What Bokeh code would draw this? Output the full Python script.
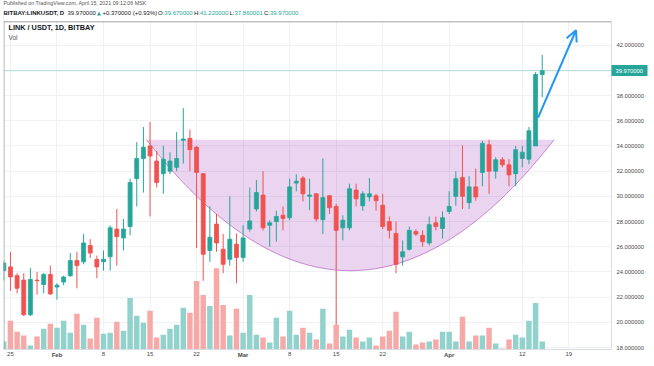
import numpy as np
import pandas as pd
from bokeh.plotting import figure
from bokeh.models import (Range1d, FixedTicker, PrintfTickFormatter, Span, Label, BoxAnnotation,
                          Arrow, OpenHead, ColumnDataSource, LinearAxis)
from bokeh.embed import file_html
from bokeh.resources import INLINE

# ---------------- data ----------------
dates = pd.date_range("2021-01-24", "2021-04-15", freq="D")

opens = [24.1, 24.4, 23.7, 23.35, 20.6, 23.35, 23.0, 23.8, 22.8, 23.2,
         23.7, 24.9, 24.8, 26.1, 25.0, 24.8, 25.2, 27.4, 26.7, 27.6,
         31.4, 33.0, 34.0, 32.8, 31.8, 32.0, 32.3, 34.45, 34.6, 33.9,
         31.8, 25.7, 27.8, 25.8, 25.0, 26.2, 25.15, 27.4, 29.0, 30.1,
         27.7, 28.0, 28.5, 28.3, 31.05, 31.45, 30.0, 30.2, 28.15, 30.05,
         29.2, 27.5, 27.5, 30.5, 29.25, 29.95, 30.05, 29.3, 28.0, 27.05,
         25.2, 25.8, 27.2, 26.9, 26.3, 27.9, 27.45, 28.8, 30.0, 31.5,
         29.5, 30.75, 31.9, 34.1, 32.0, 32.9, 32.5, 31.8, 33.0, 32.95,
         34.0, 39.67]
highs = [24.9, 25.6, 23.9, 23.9, 24.3, 24.0, 23.9, 24.5, 23.1, 23.7,
         25.5, 25.6, 27.0, 26.6, 25.3, 25.7, 27.7, 29.0, 28.2, 31.4,
         34.3, 35.5, 35.9, 33.6, 34.0, 33.5, 35.1, 37.0, 35.3, 34.0,
         31.85, 29.2, 28.6, 27.0, 30.0, 27.05, 27.7, 30.7, 31.3, 32.0,
         28.1, 28.85, 29.2, 31.4, 31.75, 31.6, 31.4, 30.25, 33.0, 30.1,
         29.4, 28.5, 31.0, 31.0, 30.4, 31.45, 30.2, 30.2, 28.4, 28.0,
         26.5, 27.6, 27.4, 27.3, 28.4, 28.4, 28.8, 30.4, 32.0, 34.05,
         31.6, 32.2, 34.4, 34.5, 33.1, 33.1, 32.95, 34.0, 34.0, 35.5,
         39.85, 41.22]
lows = [23.3, 22.5, 22.3, 20.5, 20.5, 22.2, 22.3, 22.2, 21.8, 22.95,
        23.6, 22.7, 24.6, 25.1, 23.5, 24.1, 24.1, 24.5, 25.7, 26.9,
        29.2, 30.3, 28.4, 30.7, 30.2, 31.75, 32.0, 32.6, 32.0, 25.9,
        23.3, 24.8, 25.6, 23.9, 24.5, 23.1, 24.8, 27.2, 28.8, 27.3,
        26.0, 26.4, 27.3, 28.1, 30.4, 29.6, 28.9, 28.0, 27.0, 28.6,
        19.8, 26.5, 27.3, 29.2, 28.85, 29.6, 28.85, 27.4, 26.65, 23.9,
        24.5, 25.7, 26.85, 26.0, 26.1, 27.3, 26.65, 28.6, 29.25, 29.0,
        29.0, 29.65, 30.8, 30.2, 31.4, 32.3, 30.8, 30.8, 32.3, 32.55,
        34.0, 37.86]
closes = [24.7, 23.6, 22.7, 20.6, 23.4, 23.3, 23.8, 22.25, 22.95, 23.6,
          24.9, 24.5, 26.3, 25.5, 24.4, 25.0, 27.5, 26.8, 27.4, 31.1,
          33.0, 33.9, 33.2, 31.1, 32.95, 32.8, 33.0, 34.55, 33.7, 31.9,
          25.4, 26.75, 26.3, 24.6, 26.6, 25.15, 26.7, 28.05, 30.3, 27.5,
          27.9, 28.4, 28.25, 30.75, 31.2, 30.2, 30.1, 28.2, 29.9, 29.1,
          27.3, 28.1, 30.6, 29.8, 30.2, 30.2, 29.65, 27.6, 27.3, 24.6,
          25.6, 27.3, 27.0, 26.4, 27.75, 27.6, 28.3, 29.2, 31.4, 30.0,
          30.75, 29.95, 34.2, 32.0, 32.9, 32.5, 31.7, 33.7, 33.5, 35.2,
          39.67, 39.97]
volumes = [0.8, 2.9, 1.8, 1.4, 0.4, 1.3, 2.1, 2.6, 2.2, 2.9,
           1.7, 3.6, 2.5, 1.1, 3.2, 1.6, 1.7, 2.8, 1.9, 5.2,
           3.4, 2.7, 3.9, 1.2, 1.5, 2.1, 2.5, 4.2, 3.7, 6.9,
           5.5, 4.4, 8.2, 4.5, 1.4, 4.1, 1.7, 5.5, 1.5, 1.2,
           0.7, 3.2, 1.3, 3.9, 1.5, 2.2, 1.7, 1.0, 4.1, 0.6,
           2.5, 1.3, 2.0, 1.2, 0.8, 1.2, 0.4, 1.3, 1.9, 3.8,
           1.3, 1.8, 0.5, 0.7, 0.8, 1.0, 1.8, 1.8, 0.8, 3.3,
           0.8, 1.4, 1.4, 2.2, 0.6, 0.1, 1.0, 1.5, 1.2, 2.9,
           4.7, 0.8]

tick_dates = ["2021-01-25", "2021-02-01", "2021-02-08", "2021-02-15", "2021-02-22",
              "2021-03-01", "2021-03-08", "2021-03-15", "2021-03-22", "2021-04-01",
              "2021-04-12", "2021-04-19"]
tick_labels = ["25", "Feb", "8", "15", "22", "Mar", "8", "15", "22", "Apr", "12", "19"]
month_labels = {"Feb", "Mar", "Apr"}
price_ticks = [18, 20, 22, 24, 26, 28, 30, 32, 34, 36, 38, 40, 42]
last_price = 39.97

# author's drawings: cup arc and arrow
cup_start, cup_end = "2021-02-14 11:00", "2021-04-16 19:00"
cup_rim, cup_floor = 34.5, 24.1
arrow_start = ("2021-04-14 09:00", 36.25)
arrow_end = ("2021-04-20 02:00", 43.18)

# ---------------- build ----------------
TEAL, RED, BOX, SEP = "#26a69a", "#ef5350", "#a3a3a3", "#d9dce2"
FONT = "Liberation Sans"
base = pd.Timestamp("2021-01-25")
def day(d):
    return (pd.Timestamp(d) - base) / pd.Timedelta(days=1)

x = np.array([day(d) for d in dates])
o = np.array(opens); h = np.array(highs); l = np.array(lows); c = np.array(closes)
up = c >= o
src = ColumnDataSource(dict(
    x=x, h=h, l=l, top=np.maximum(o, c), bottom=np.minimum(o, c),
    color=np.where(up, TEAL, RED), vcolor=np.where(up, "#92d2cc", "#f7a9a7"),
    vol=volumes))

W, H = 654, 366
ML, MR, MT, MB = 3, 38, 0, 14
PX_DAY, PX_PRICE = 6.702, 12.708          # picture scale of the pane
X0 = -1.045                                # day at the pane's left edge
PANE_TOP = 43.889                          # price at the pane's top edge (below header)
Y0 = 17.843                                # price at the pane's bottom edge
TOP = Y0 + (H - MB) / PX_PRICE             # frame also spans the header strip
X1 = X0 + (W - ML - MR) / PX_DAY

p = figure(width=W, height=H, output_backend="svg", toolbar_location=None, title=None,
           x_range=Range1d(X0, X1), y_range=Range1d(Y0, TOP),
           x_axis_location="below", y_axis_location="right",
           min_border_left=ML, min_border_right=MR, min_border_top=MT, min_border_bottom=MB)
p.extra_y_ranges = {"vol": Range1d(0, (H - MB) / 10)}
p.outline_line_color = None
p.background_fill_color = "white"
p.border_fill_color = "white"

xt = [int(round(day(d))) for d in tick_dates]
p.xgrid.ticker = FixedTicker(ticks=xt)
p.ygrid.ticker = FixedTicker(ticks=price_ticks)
p.xgrid.grid_line_color = "#eef1f6"
p.ygrid.grid_line_color = "#eef1f6"

# cup
c0, c1 = day(cup_start), day(cup_end)
cx = np.linspace(c0, c1, 160)
mid, half = (c0 + c1) / 2, (c1 - c0) / 2
cy = cup_rim - (cup_rim - cup_floor) * (1 - ((cx - mid) / half) ** 2)
p.patch(cx, cy, fill_color="#9c27b0", fill_alpha=0.2, line_color=None)
p.line(cx, cy, line_color="#9c27b0", line_alpha=0.5, line_width=1)

# volume
p.vbar(x="x", top="vol", bottom=0, width=0.82, fill_color="vcolor", line_color=None,
       y_range_name="vol", source=src)
# candles
p.segment(x0="x", y0="l", x1="x", y1="h", line_color="color", line_width=1, source=src)
p.vbar(x="x", top="top", bottom="bottom", width=0.6, fill_color="color",
       line_color="color", line_width=0.8, source=src)

p.add_layout(Span(location=last_price, dimension="width", line_color=TEAL,
                  line_alpha=0.3, line_width=1))

p.add_layout(Arrow(end=OpenHead(size=11, line_color="#2196f3", line_width=2),
                   x_start=day(arrow_start[0]), y_start=arrow_start[1],
                   x_end=day(arrow_end[0]), y_end=arrow_end[1],
                   line_color="#2196f3", line_width=2))

# left box edge, then blank header strip, then top box edge
p.add_layout(Span(location=X0 + 0.5 / PX_DAY, dimension="height", line_color=BOX, line_width=1))
p.add_layout(BoxAnnotation(left=X0 - 5, right=X1 + 5, bottom=PANE_TOP, top=TOP + 5,
                           fill_color="white", fill_alpha=1, line_color=None))
p.add_layout(Span(location=PANE_TOP - 0.5 / PX_PRICE, dimension="width",
                  line_color=BOX, line_width=1))

def style(ax, size):
    ax.major_tick_in = 0
    ax.major_tick_out = 0
    ax.minor_tick_line_color = None
    ax.major_label_text_color = "#4a4a4a"
    ax.major_label_text_font = FONT
    ax.major_label_text_font_size = size

# ---- date axes: day numbers (inner, no extent) + bold month names (outer) ----
day_ticks = [t for t, s in zip(xt, tick_labels) if s not in month_labels]
mon_ticks = [t for t, s in zip(xt, tick_labels) if s in month_labels]
xax = p.xaxis[0]
style(xax, "6px")
xax.ticker = FixedTicker(ticks=day_ticks)
xax.major_label_overrides = {t: s for t, s in zip(xt, tick_labels) if t in day_ticks}
xax.major_label_standoff = 2
xax.axis_line_color = SEP
xax.axis_label = " "
xax.axis_label_text_font_size = "2px"
xax.axis_label_standoff = -16

xm = LinearAxis(ticker=FixedTicker(ticks=mon_ticks),
                major_label_overrides={t: s for t, s in zip(xt, tick_labels) if t in mon_ticks})
style(xm, "6px")
xm.major_label_text_font_style = "bold"
xm.major_label_standoff = 2
xm.axis_line_color = None
xm.axis_label = " "
xm.axis_label_text_font_size = "2px"
xm.axis_label_standoff = 1
p.add_layout(xm, "below")

# ---- price axes: last-price tag (inner, no extent) + price scale (outer) ----
TAG_W = 36
yax = p.yaxis[0]
style(yax, "5.8px")
yax.bounds = (Y0, PANE_TOP)
yax.ticker = FixedTicker(ticks=[last_price], minor_ticks=[last_price])
yax.formatter = PrintfTickFormatter(format="%.6f")
yax.major_label_text_color = "white"
yax.minor_tick_line_color = TEAL
yax.minor_tick_in = 0
yax.minor_tick_out = TAG_W
yax.minor_tick_line_width = 11
yax.major_label_standoff = 4 - TAG_W
yax.axis_line_color = SEP
yax.axis_label = " "
yax.axis_label_text_font_size = "3px"
yax.axis_label_standoff = -40

scale_ticks = [t for t in price_ticks if abs(t - last_price) > 0.5]
ys = LinearAxis(ticker=FixedTicker(ticks=scale_ticks), formatter=PrintfTickFormatter(format="%.6f"),
                bounds=(Y0, PANE_TOP))
style(ys, "5.8px")
ys.major_label_standoff = 4
ys.axis_line_color = None
ys.axis_label = " "
ys.axis_label_text_font_size = "3px"
ys.axis_label_standoff = 1
p.add_layout(ys, "right")

# outer box edges (right / bottom) as bare axes
for side in ("right", "below"):
    ax = LinearAxis(ticker=FixedTicker(ticks=[]), major_tick_in=0, major_tick_out=0,
                    minor_tick_in=0, minor_tick_out=0, major_label_text_font_size="0px",
                    axis_line_color=BOX)
    if side == "right":
        ax.bounds = (Y0, PANE_TOP)
    p.add_layout(ax, side)

# texts (screen units from the frame's bottom-left corner; picture pixel positions)
def lab(text, X, Y, size, color, bold=False, font=FONT):
    p.add_layout(Label(x=X - ML, y=(H - MB) - Y, x_units="screen", y_units="screen",
                       text=text, text_font_size=size, text_color=color,
                       text_baseline="middle", text_font=font,
                       text_font_style="bold" if bold else "normal"))

lab("Published on TradingView.com, April 15, 2021 09:12:06 MSK", 3, 5.5, "5.3px", "#555555")
Y2 = 15.5
lab("BITBAY:LINKUSDT, D", 3, Y2, "6px", "#131722", bold=True)
lab("39.970000", 67, Y2, "6px", "#131722")
lab("\u25b2", 96.5, Y2, "5px", TEAL, font="DejaVu Sans")
lab("+0.370000 (+0.93%)", 102, Y2, "6px", "#131722")
for X, k, v, kw in [(157.5, "O:", "39.670000", 6.3), (193.5, "H:", "41.220000", 6.0),
                    (229, "L:", "37.860001", 5.0), (263.5, "C:", "39.970000", 6.0)]:
    lab(k, X, Y2, "6px", "#131722")
    lab(v, X + kw, Y2, "6px", TEAL)

lab("LINK / USDT, 1D, BITBAY", 8, 29.5, "7.3px", "#131722", bold=True)
lab("Vol", 8, 39.5, "6.5px", "#555555")

open("out.html", "w").write(file_html(p, INLINE))
